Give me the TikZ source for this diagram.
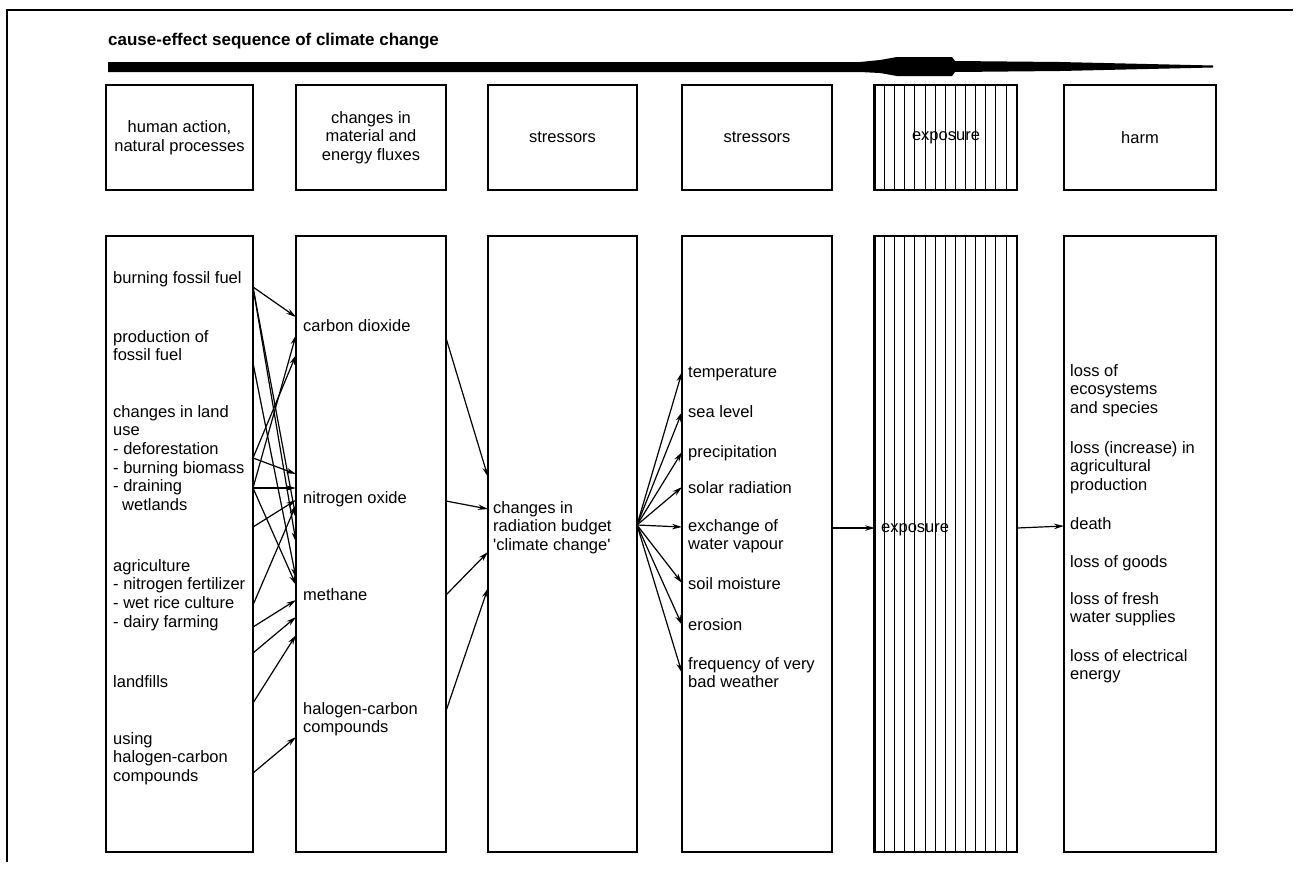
\documentclass[tikz,border=0pt]{standalone}
\usepackage{fontspec}
\setmainfont{Liberation Sans}
\usetikzlibrary{arrows.meta,calc}
\newcommand\lbf{\fontsize{16.5}{18.7}\selectfont}
\begin{document}
\begin{tikzpicture}[x=1pt,y=-1pt,
  box/.style={draw, line width=1.4pt, inner sep=0pt},
  topbox/.style={box, minimum height=105pt, align=center, font=\lbf},
  botbox/.style={box, minimum height=616pt},
  lbl/.style={anchor=north west, align=left, inner sep=0pt, font=\lbf, execute at begin node=\strut},
  arr/.style={line width=1.2pt, -{Stealth[length=10pt,width=5.5pt]}},
  hatch/.style={line width=1pt},
]
\useasboundingbox (0,0) rectangle (1303,879);
% frame
\draw[line width=1.2pt] (7,862) -- (7,10) -- (1293,10);
% title
\node[anchor=base west, inner sep=0pt, font=\bfseries\fontsize{17}{20}\selectfont] (title) at (108,45) {cause-effect sequence of climate change};
% arrow bar
\fill (108,62) -- (860,62) -- (880,60) -- (897,57) -- (952,57) -- (955,61) -- (1060,62) -- (1213,65.5) -- (1213,67.5) -- (1060,71) -- (955,72) -- (952,76) -- (897,76) -- (880,73) -- (860,72) -- (108,72) -- cycle;

% top boxes
\node[topbox, minimum width=147pt] (t1) at (179.5,137.5) {human action,\\natural processes};
\node[topbox, minimum width=150pt] (t2) at (371,137.5) {changes in\\material and\\energy fluxes};
\node[topbox, minimum width=149pt] (t3) at (562.5,137.5) {stressors};
\node[topbox, minimum width=150pt] (t4) at (757,137.5) {stressors};
\node[topbox, minimum width=142pt] (t5) at (946,137.5) {exposure};
\node[topbox, minimum width=152pt] (t6) at (1140,137.5) {harm};

% bottom boxes
\node[botbox, minimum width=147pt] (b1) at (179.5,544) {};
\node[botbox, minimum width=150pt] (b2) at (371,544) {};
\node[botbox, minimum width=149pt] (b3) at (562.5,544) {};
\node[botbox, minimum width=150pt] (b4) at (757,544) {};
\node[botbox, minimum width=142pt] (b5) at (946,544) {};
\node[botbox, minimum width=152pt] (b6) at (1140,544) {};

% hatching of exposure column
\foreach \k in {1,...,13}{
  \draw[hatch] ($(t5.north west)+(\k*10.14,0)$) -- ($(t5.south west)+(\k*10.14,0)$);
  \draw[hatch] ($(b5.north west)+(\k*10.14,0)$) -- ($(b5.south west)+(\k*10.14,0)$);
}
\draw[line width=2.8pt] (t5.north west) -- (t5.south west);
\draw[line width=2.8pt] (b5.north west) -- (b5.south west);

% column 1 labels
\node[lbl] (l1) at (113,270) {burning fossil fuel};
\node[lbl] (l2) at (113,330) {production of\\fossil fuel};
\node[lbl] (l3) at (113,405) {changes in land\\use\\- deforestation\\- burning biomass\\- draining\\\hspace*{9pt}wetlands};
\node[lbl] (l4) at (113,559) {agriculture\\- nitrogen fertilizer\\- wet rice culture\\- dairy farming};
\node[lbl] (l5) at (113,674) {landfills};
\node[lbl] (l6) at (113,732) {using\\halogen-carbon\\compounds};

% column 2 labels
\node[lbl] (m1) at (303,318) {carbon dioxide};
\node[lbl] (m2) at (303,490) {nitrogen oxide};
\node[lbl] (m3) at (303,587) {methane};
\node[lbl] (m4) at (303,702) {halogen-carbon\\compounds};

% column 3 label
\node[lbl] (cc) at (493,501) {changes in\\radiation budget\\\textquotesingle climate change\textquotesingle};

% column 4 labels
\node[lbl] (r1) at (688,364) {temperature};
\node[lbl] (r2) at (688,404) {sea level};
\node[lbl] (r3) at (688,444) {precipitation};
\node[lbl] (r4) at (688,480) {solar radiation};
\node[lbl] (r5) at (688,519) {exchange of\\water vapour};
\node[lbl] (r6) at (688,576) {soil moisture};
\node[lbl] (r7) at (688,617) {erosion};
\node[lbl] (r8) at (688,657) {frequency of very\\bad weather};

% column 5 label
\node[lbl] (ex) at (881,519) {exposure};

% column 6 labels
\node[lbl] (h1) at (1070,364) {loss of\\ecosystems\\and species};
\node[lbl] (h2) at (1070,441) {loss (increase) in\\agricultural\\production};
\node[lbl] (h3) at (1070,516) {death};
\node[lbl] (h4) at (1070,554) {loss of goods};
\node[lbl] (h5) at (1070,592) {loss of fresh\\water supplies};
\node[lbl] (h6) at (1070,649) {loss of electrical\\energy};

% connector end points on column edges
\coordinate (s1) at (253,287);
\coordinate (s2) at (253,363);
\coordinate (s3) at (253,458);
\coordinate (s4) at (253,488);
\coordinate (s5) at (253,527);
\coordinate (s6) at (253,605);
\coordinate (s7) at (253,627);
\coordinate (s8) at (253,653);
\coordinate (s9) at (253,703);
\coordinate (s10) at (253,773);

\coordinate (co2a) at (296,317);
\coordinate (co2b) at (296,335);
\coordinate (co2c) at (296,355);
\coordinate (noa) at (296,474);
\coordinate (nob) at (296,488);
\coordinate (noc) at (296,500);
\coordinate (nod) at (296,505);
\coordinate (noe) at (296,518);
\coordinate (nof) at (296,542);
\coordinate (mea) at (296,578);
\coordinate (meb) at (296,585);
\coordinate (mec) at (296,600);
\coordinate (med) at (296,617);
\coordinate (mee) at (296,635);
\coordinate (hca) at (296,737);

\draw[arr] (s1) -- (co2a);
\draw[arr] (s1) -- (noe);
\draw[arr] (s1) -- (nof);
\draw[arr] (s2) -- (mea);
\draw[arr] (s3) -- (co2c);
\draw[arr] (s3) -- (noa);
\draw[arr] (s4) -- (co2b);
\draw[arr] (s4) -- (nob);
\draw[arr] (s4) -- (meb);
\draw[arr] (s5) -- (noc);
\draw[arr] (s6) -- (nod);
\draw[arr] (s7) -- (mec);
\draw[arr] (s8) -- (med);
\draw[arr] (s9) -- (mee);
\draw[arr] (s10) -- (hca);

% column 2 -> column 3
\coordinate (o1) at (446,338);
\coordinate (o2) at (446,501);
\coordinate (o3) at (446,595);
\coordinate (o4) at (446,711);
\coordinate (i1) at (488,477);
\coordinate (i2) at (488,509);
\coordinate (i3) at (488,552);
\coordinate (i4) at (488,588);
\draw[arr] (o1) -- (i1);
\draw[arr] (o2) -- (i2);
\draw[arr] (o3) -- (i3);
\draw[arr] (o4) -- (i4);

% column 3 -> column 4 fan
\coordinate (fan) at (637,525);
\foreach \yy/\nm in {372/f1,412/f2,452/f3,487/f4,527/f5,583/f6,625/f7,673/f8}{
  \coordinate (\nm) at (682,\yy);
  \draw[arr] (fan) -- (\nm);
}

% column 4 -> 5 -> 6
\coordinate (e1) at (832,528);
\coordinate (e2) at (875,528);
\coordinate (e3) at (1017,528);
\coordinate (e4) at (1064,526);
\draw[arr] (e1) -- (e2);
\draw[arr] (e3) -- (e4);
\end{tikzpicture}
\end{document}
